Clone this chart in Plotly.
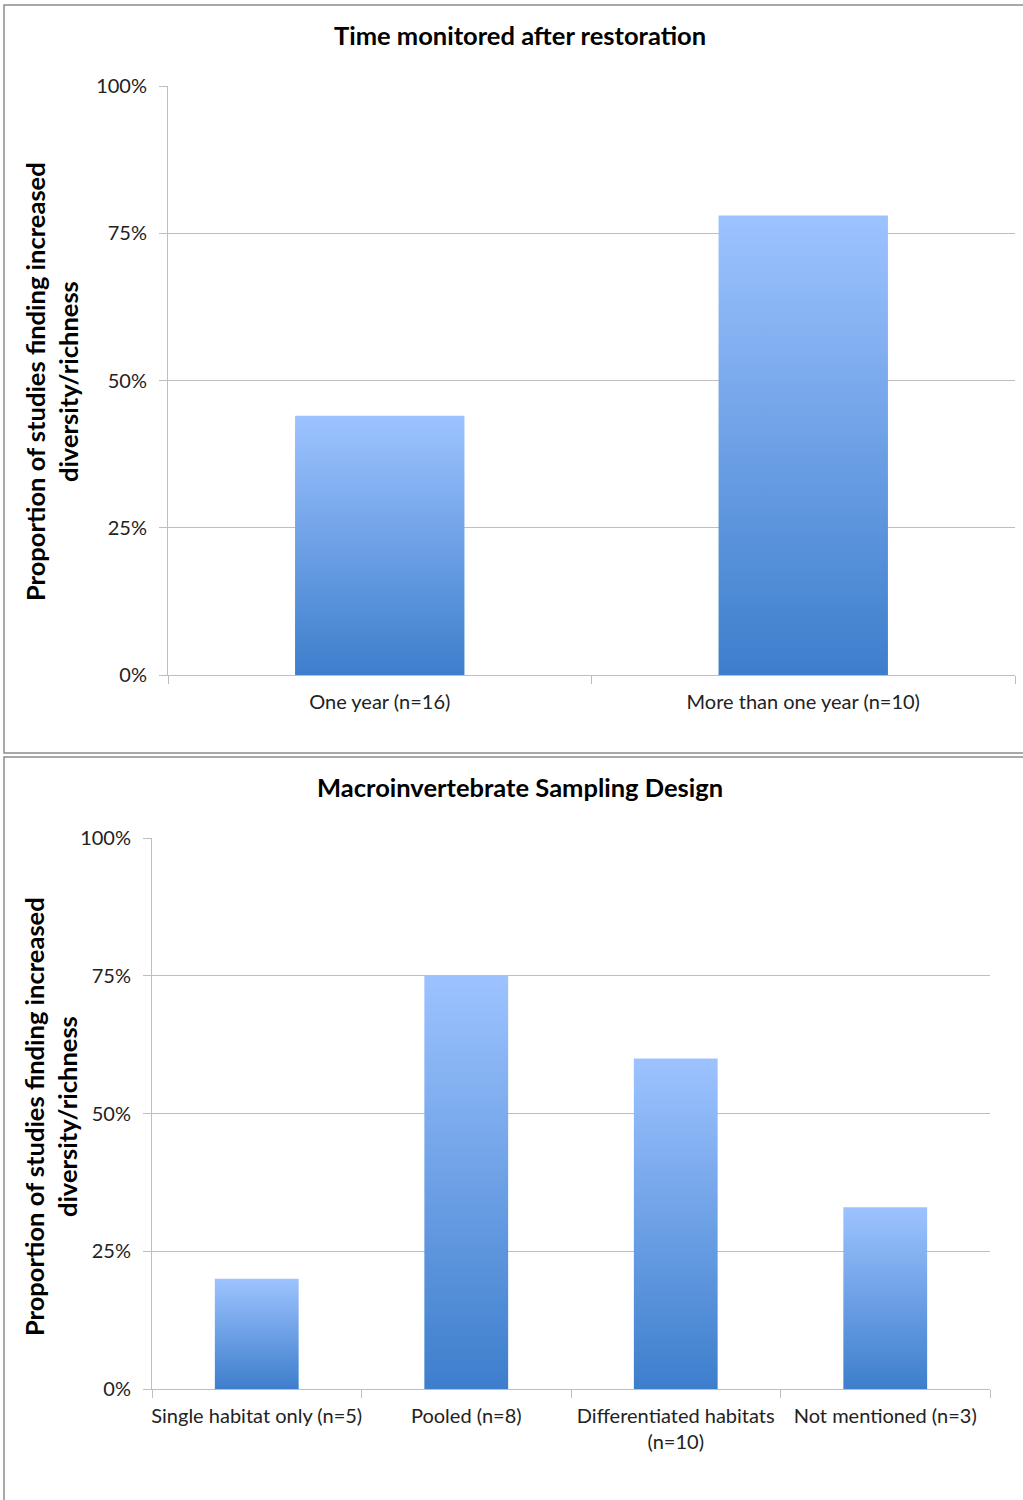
import plotly.graph_objects as go

# Panel 1: time monitored after restoration
time_labels = ["One year (n=16)", "More than one year (n=10)"]
time_values = [0.44, 0.78]

# Panel 2: macroinvertebrate sampling design
design_labels = ["Single habitat only (n=5)", "Pooled (n=8)",
                 "Differentiated habitats<br>(n=10)", "Not mentioned (n=3)"]
design_values = [0.20, 0.75, 0.60, 0.33]

y_ticks = [0, 0.25, 0.5, 0.75, 1.0]
y_ticktext = ["0%", "25%", "50%", "75%", "100%"]

W, H = 1023, 1500
FONT = "Lato"
BAR_WIDTH = 0.40
LIGHT = "#9DC3FF"
DARK = "#3D7ECC"
GRID = "#BEBEBE"
BORDER = "#8C8C8C"


def px(x):
    return x / W


def py(y):
    return 1 - y / H


fig = go.Figure()


def add_bars(values, xa, ya):
    for i, v in enumerate(values):
        x0, x1 = i - BAR_WIDTH / 2, i + BAR_WIDTH / 2
        fig.add_trace(go.Scatter(
            x=[x0, x1, x1, x0, x0], y=[0, 0, v, v, 0],
            mode="lines", line=dict(width=0), fill="toself",
            fillgradient=dict(type="vertical", start=0, stop=v,
                              colorscale=[[0, DARK], [1, LIGHT]]),
            xaxis=xa, yaxis=ya, showlegend=False, hoverinfo="skip",
        ))


add_bars(time_values, "x", "y")
add_bars(design_values, "x2", "y2")


def xaxis_cfg(labels, dom, anchor):
    n = len(labels)
    return dict(
        domain=dom, anchor=anchor, range=[-0.5, n - 0.5],
        tickmode="array", tickvals=list(range(n)), ticktext=labels,
        ticks="", showgrid=False, zeroline=False, automargin=False,
        showline=True, linecolor=GRID, linewidth=1,
        tickfont=dict(family=FONT, size=20, color="#222"),
        ticklabelstandoff=9,
        minor=dict(tickmode="array", tickvals=[k - 0.5 for k in range(n + 1)],
                   ticks="outside", ticklen=8, tickcolor=GRID, tickwidth=1,
                   showgrid=False),
        fixedrange=True,
    )


def yaxis_cfg(dom, anchor):
    return dict(
        domain=dom, anchor=anchor, range=[0, 1],
        tickmode="array", tickvals=y_ticks, ticktext=y_ticktext,
        ticks="outside", ticklen=8, tickcolor=GRID, tickwidth=1,
        showgrid=True, gridcolor=GRID, gridwidth=1, zeroline=False,
        showline=True, linecolor=GRID, linewidth=1, automargin=False,
        tickfont=dict(family=FONT, size=20, color="#222"),
        ticklabelstandoff=8,
        fixedrange=True,
    )


fig.update_layout(
    width=W, height=H, margin=dict(l=0, r=0, t=0, b=0, autoexpand=False),
    paper_bgcolor="white", plot_bgcolor="white",
    xaxis=xaxis_cfg(time_labels, [px(168), px(1015)], "y"),
    yaxis=yaxis_cfg([py(675), py(86)], "x"),
    xaxis2=xaxis_cfg(design_labels, [px(152), px(990)], "y2"),
    yaxis2=yaxis_cfg([py(1389), py(838)], "x2"),
)

# Chart frames
fig.add_shape(type="rect", xref="paper", yref="paper",
              x0=px(4), x1=px(1040), y0=py(753), y1=py(5),
              line=dict(color=BORDER, width=1.5), fillcolor="rgba(0,0,0,0)")
fig.add_shape(type="rect", xref="paper", yref="paper",
              x0=px(4), x1=px(1040), y0=py(1520), y1=py(757),
              line=dict(color=BORDER, width=1.5), fillcolor="rgba(0,0,0,0)")

title_font = dict(family=FONT, size=25.5, color="#000")
ytitle = "<b>Proportion of studies finding increased<br>diversity/richness</b>"


def note(x, y, text, angle=0):
    fig.add_annotation(xref="paper", yref="paper", x=px(x), y=py(y),
                       xanchor="center", yanchor="middle",
                       text=text, textangle=angle, showarrow=False,
                       font=title_font)


note(520, 35, "<b>Time monitored after restoration</b>")
note(520, 787, "<b>Macroinvertebrate Sampling Design</b>")
note(52, 382, ytitle, -90)
note(50, 1117, ytitle, -90)

fig.write_html("out.html")
